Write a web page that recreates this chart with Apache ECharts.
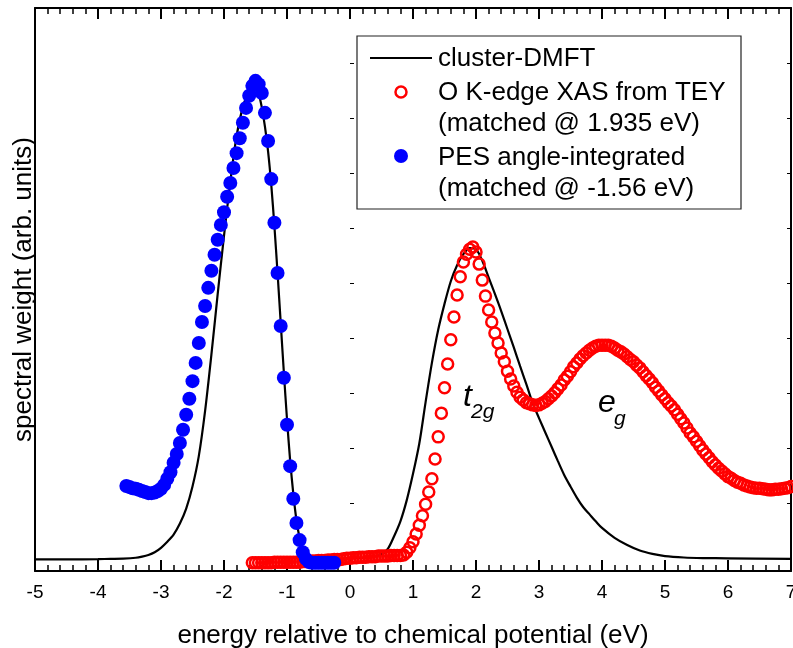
<!DOCTYPE html>
<html>
<head>
<meta charset="utf-8">
<script src="https://cdn.jsdelivr.net/npm/echarts@6/dist/echarts.min.js"></script>
<style>
  html, body { margin: 0; padding: 0; background: #fff; }
  #chart { width: 793px; height: 648px; }
</style>
</head>
<body>
<div id="chart"></div>
<script>
// cluster-DMFT spectral function (energy in eV, weight in arb. units)
const dmftE = [-5, -4.5, -4, -3.8, -3.6, -3.4, -3.3, -3.2, -3.1, -3, -2.9, -2.8, -2.7, -2.6, -2.5, -2.4, -2.3,
  -2.2, -2.1, -2, -1.9, -1.8, -1.7, -1.6, -1.55, -1.5, -1.45, -1.4, -1.35, -1.3, -1.25, -1.2, -1.15, -1.1,
  -1.05, -1, -0.95, -0.9, -0.85, -0.8, -0.75, -0.7, -0.65, -0.6, -0.3, 0, 0.2, 0.4, 0.5, 0.6, 0.7, 0.8,
  0.9, 1, 1.1, 1.2, 1.3, 1.4, 1.5, 1.6, 1.7, 1.8, 1.9, 2, 2.1, 2.2, 2.3, 2.4, 2.5, 2.6, 2.7, 2.8, 2.9,
  3, 3.1, 3.2, 3.3, 3.4, 3.5, 3.6, 3.7, 3.8, 3.9, 4, 4.2, 4.4, 4.6, 4.8, 5, 5.3, 5.6, 6, 7]
const dmftW = [0.01, 0.01, 0.015, 0.02, 0.025, 0.04, 0.06, 0.09, 0.14, 0.22, 0.33, 0.46, 0.66, 0.93, 1.33, 1.88, 2.7,
  3.72, 4.82, 5.87, 6.85, 7.68, 8.21, 8.51, 8.6, 8.57, 8.45, 8.2, 7.85, 7.4, 6.8, 6.05, 5.2, 4.3,
  3.4, 2.55, 1.8, 1.2, 0.72, 0.4, 0.2, 0.09, 0.04, 0.02, 0.02, 0.03, 0.04, 0.07, 0.1, 0.2, 0.43, 0.7,
  1.08, 1.56, 2.11, 2.86, 3.57, 4.17, 4.64, 5.05, 5.34, 5.54, 5.65, 5.63, 5.42, 5.12, 4.82, 4.51, 4.18, 3.85, 3.51, 3.18, 2.84,
  2.57, 2.31, 2.05, 1.79, 1.54, 1.33, 1.13, 0.96, 0.83, 0.7, 0.58, 0.4, 0.27, 0.17, 0.11, 0.07, 0.045, 0.035, 0.03, 0.02]

// O K-edge XAS from TEY
const xasE = [-1.55, -1.5, -1.45, -1.4, -1.35, -1.3, -1.25, -1.2, -1.15, -1.1, -1.05, -1, -0.95, -0.9, -0.85, -0.8,
  -0.75, -0.7, -0.65, -0.6, -0.55, -0.5, -0.45, -0.4, -0.35, -0.3, -0.25, -0.2, -0.15, -0.1, -0.05, 0,
  0.05, 0.1, 0.15, 0.2, 0.25, 0.3, 0.35, 0.4, 0.45, 0.5, 0.55, 0.6, 0.65, 0.7, 0.75, 0.8,
  0.85, 0.9, 0.95, 1, 1.05, 1.1, 1.15, 1.2, 1.25, 1.3, 1.35, 1.4, 1.45, 1.5, 1.55, 1.6, 1.65, 1.7, 1.75, 1.8, 1.85, 1.9, 1.95,
  2, 2.05, 2.1, 2.15, 2.2, 2.25, 2.3, 2.35, 2.4, 2.45, 2.5, 2.55, 2.6, 2.65, 2.7, 2.75, 2.8, 2.85, 2.9, 2.95,
  3, 3.05, 3.1, 3.15, 3.2, 3.25, 3.3, 3.35, 3.4, 3.45, 3.5, 3.55, 3.6, 3.65, 3.7, 3.75, 3.8,
  3.85, 3.9, 3.95, 4, 4.05, 4.1, 4.15, 4.2, 4.25, 4.3, 4.35, 4.4, 4.45, 4.5, 4.55, 4.6, 4.65, 4.7, 4.75, 4.8,
  4.85, 4.9, 4.95, 5, 5.05, 5.1, 5.15, 5.2, 5.25, 5.3, 5.35, 5.4, 5.45, 5.5, 5.55, 5.6, 5.65, 5.7, 5.75, 5.8,
  5.85, 5.9, 5.95, 6, 6.05, 6.1, 6.15, 6.2, 6.25, 6.3, 6.35, 6.4, 6.45, 6.5, 6.55, 6.6, 6.65, 6.7, 6.75, 6.8,
  6.85, 6.9, 6.95, 7]
const xasW = [-0.05, -0.05, -0.05, -0.05, -0.05, -0.05, -0.05, -0.04, -0.04, -0.04, -0.04, -0.04, -0.04, -0.04, -0.04, -0.04,
  -0.03, -0.03, -0.03, -0.02, -0.02, -0.01, -0.01, -0.01, 0, 0, 0.01, 0.01, 0.01, 0.02, 0.03, 0.03,
  0.04, 0.04, 0.05, 0.05, 0.05, 0.06, 0.06, 0.06, 0.07, 0.07, 0.07, 0.07, 0.08, 0.08, 0.08, 0.08,
  0.09, 0.14, 0.22, 0.33, 0.47, 0.63, 0.8, 1.01, 1.23, 1.47, 1.83, 2.23, 2.66, 3.12, 3.55, 3.99, 4.4, 4.8, 5.13, 5.4, 5.54, 5.63, 5.67,
  5.58, 5.36, 5.07, 4.78, 4.53, 4.31, 4.11, 3.93, 3.75, 3.59, 3.42, 3.28, 3.15, 3.04, 2.95, 2.9, 2.85, 2.83, 2.81, 2.8,
  2.81, 2.84, 2.87, 2.92, 2.97, 3.03, 3.1, 3.17, 3.26, 3.33, 3.41, 3.5, 3.57, 3.64, 3.7, 3.75, 3.8,
  3.84, 3.87, 3.89, 3.89, 3.89, 3.89, 3.87, 3.84, 3.8, 3.77, 3.73, 3.68, 3.63, 3.59, 3.53, 3.48, 3.41, 3.34, 3.28, 3.21,
  3.13, 3.06, 2.99, 2.92, 2.85, 2.79, 2.72, 2.64, 2.56, 2.48, 2.39, 2.3, 2.23, 2.15, 2.07, 1.99, 1.92, 1.85, 1.78, 1.72,
  1.66, 1.61, 1.56, 1.51, 1.48, 1.44, 1.41, 1.39, 1.36, 1.34, 1.32, 1.31, 1.3, 1.3, 1.29, 1.28, 1.27, 1.27, 1.28, 1.28,
  1.29, 1.3, 1.31, 1.33]

// PES angle-integrated
const pesE = [-3.55, -3.5, -3.45, -3.4, -3.35, -3.3, -3.25, -3.2, -3.15, -3.1, -3.05, -3, -2.95, -2.9, -2.85, -2.8,
  -2.75, -2.7, -2.65, -2.6, -2.55, -2.5, -2.45, -2.4, -2.35, -2.3, -2.25, -2.2, -2.15, -2.1, -2.05, -2,
  -1.95, -1.9, -1.85, -1.8, -1.75, -1.7, -1.65, -1.6, -1.55, -1.5, -1.45, -1.4, -1.35, -1.3, -1.25, -1.2,
  -1.15, -1.1, -1.05, -1, -0.95, -0.9, -0.85, -0.8, -0.75, -0.7, -0.65, -0.6, -0.55, -0.5, -0.45, -0.4,
  -0.35, -0.3, -0.25]
const pesW = [1.34, 1.32, 1.3, 1.29, 1.27, 1.25, 1.23, 1.21, 1.21, 1.22, 1.25, 1.29, 1.36, 1.47, 1.59, 1.76,
  1.92, 2.12, 2.36, 2.63, 2.92, 3.24, 3.57, 3.93, 4.31, 4.6, 4.93, 5.24, 5.53, 5.8, 6.07, 6.3,
  6.58, 6.83, 7.1, 7.37, 7.64, 7.92, 8.19, 8.41, 8.59, 8.68, 8.62, 8.46, 8.1, 7.59, 6.9, 6.11,
  5.2, 4.24, 3.3, 2.45, 1.7, 1.11, 0.67, 0.36, 0.14, 0.02, -0.04, -0.05, -0.05, -0.05, -0.05, -0.05,
  -0.05, -0.05, -0.05]

const seriesNames = ['cluster-DMFT', 'O K-edge XAS from TEY', 'PES angle-integrated']
const matchNotes = ['(matched @ 1.935 eV)', '(matched @ -1.56 eV)']

const FONT = '"Liberation Sans", Arial, Helvetica, sans-serif'

const zip = (xs, ys) => xs.map((x, i) => [x, ys[i]])

const frameAxis = (extra) => ({
  axisLine: { show: true, onZero: false, lineStyle: { color: '#000', width: 2 } },
  splitLine: { show: false },
  ...extra,
})

const chart = echarts.init(document.getElementById('chart'), null, { renderer: 'canvas' })

const legendText = (text, y) => ({
  type: 'text',
  x: 438,
  y: y,
  z: 11,
  style: { text, fill: '#000', font: '26px ' + FONT, verticalAlign: 'middle', textVerticalAlign: 'middle' },
})

const label = (text, x, y, size) => ({
  type: 'text',
  x, y, z: 11,
  style: { text, fill: '#000', font: 'italic ' + size + 'px ' + FONT, verticalAlign: 'middle', textVerticalAlign: 'middle' },
})

const xTicks = {
  axisTick: { show: true, inside: true, length: 11, lineStyle: { color: '#000', width: 2 } },
  minorTick: { show: true, splitNumber: 5, length: 6, lineStyle: { color: '#000', width: 1.5 } },
}

const yTicks = {
  axisLine: { show: false },
  splitLine: { show: false },
  axisLabel: { show: false },
  axisTick: { show: true, inside: true, length: 4, lineStyle: { color: '#000', width: 1 } },
}

chart.setOption({
  animation: false,
  backgroundColor: '#fff',
  textStyle: { fontFamily: FONT },
  grid: [
    { left: 35, right: 2, top: 8, bottom: 77, containLabel: false, outerBoundsMode: 'none' },
    // overlay grid used only for the small inward y ticks
    { left: 35, right: 2, top: 8, bottom: 90, containLabel: false, outerBoundsMode: 'none' },
  ],
  xAxis: [
    frameAxis({
      type: 'value', gridIndex: 0, position: 'bottom', min: -5, max: 7, interval: 1,
      ...xTicks,
      axisLabel: { color: '#000', fontSize: 19, margin: 12, fontFamily: FONT },
      name: 'energy relative to chemical potential (eV)',
      nameLocation: 'middle',
      nameGap: 52,
      nameTextStyle: { color: '#000', fontSize: 26, fontFamily: FONT },
    }),
    frameAxis({
      type: 'value', gridIndex: 0, position: 'top', min: -5, max: 7, interval: 1,
      ...xTicks,
      axisLabel: { show: false },
    }),
    { type: 'value', gridIndex: 1, min: -5, max: 7, show: false },
  ],
  yAxis: [
    frameAxis({
      type: 'value', gridIndex: 0, position: 'left', min: -0.2, max: 10,
      axisTick: { show: false },
      axisLabel: { show: false },
      name: 'spectral weight (arb. units)',
      nameLocation: 'middle',
      nameGap: -2,
      nameTextStyle: { color: '#000', fontSize: 26, fontFamily: FONT },
    }),
    frameAxis({
      type: 'value', gridIndex: 0, position: 'right', min: -0.2, max: 10,
      axisTick: { show: false },
      axisLabel: { show: false },
    }),
    { type: 'value', gridIndex: 1, position: 'left', min: 0, max: 10, interval: 1, ...yTicks },
    { type: 'value', gridIndex: 1, position: 'right', min: 0, max: 10, interval: 1, ...yTicks },
  ],
  series: [
    {
      name: seriesNames[0],
      type: 'line',
      data: zip(dmftE, dmftW),
      showSymbol: false,
      smooth: 0.3,
      lineStyle: { color: '#000', width: 2.2 },
      z: 2,
    },
    {
      name: seriesNames[1],
      type: 'scatter',
      data: zip(xasE, xasW),
      symbol: 'circle',
      symbolSize: 11,
      itemStyle: { color: 'rgba(255,255,255,0)', borderColor: '#ff0000', borderWidth: 2.5, opacity: 1 },
      z: 3,
    },
    {
      name: seriesNames[2],
      type: 'scatter',
      data: zip(pesE, pesW),
      symbol: 'circle',
      symbolSize: 14,
      itemStyle: { color: '#0000ff', opacity: 1 },
      z: 4,
    },
  ],
  graphic: [
    // legend box
    {
      type: 'rect',
      shape: { x: 357, y: 36, width: 384, height: 173 },
      style: { fill: '#fff', stroke: '#222', lineWidth: 1.2 },
      z: 10,
    },
    {
      type: 'line',
      shape: { x1: 370, y1: 58, x2: 432, y2: 58 },
      style: { stroke: '#000', lineWidth: 2.2 },
      z: 11,
    },
    {
      type: 'circle',
      shape: { cx: 401, cy: 92, r: 5.5 },
      style: { fill: 'none', stroke: '#ff0000', lineWidth: 2.5 },
      z: 11,
    },
    {
      type: 'circle',
      shape: { cx: 401, cy: 156, r: 7 },
      style: { fill: '#0000ff' },
      z: 11,
    },
    legendText(seriesNames[0], 59),
    legendText(seriesNames[1], 93),
    legendText(matchNotes[0], 124),
    legendText(seriesNames[2], 158),
    legendText(matchNotes[1], 189),
    // peak labels
    label('t', 463, 397, 32),
    label('2g', 471, 412, 21),
    label('e', 598, 403, 32),
    label('g', 614, 419, 21),
  ],
})

window.addEventListener('resize', () => chart.resize())
</script>
</body>
</html>
